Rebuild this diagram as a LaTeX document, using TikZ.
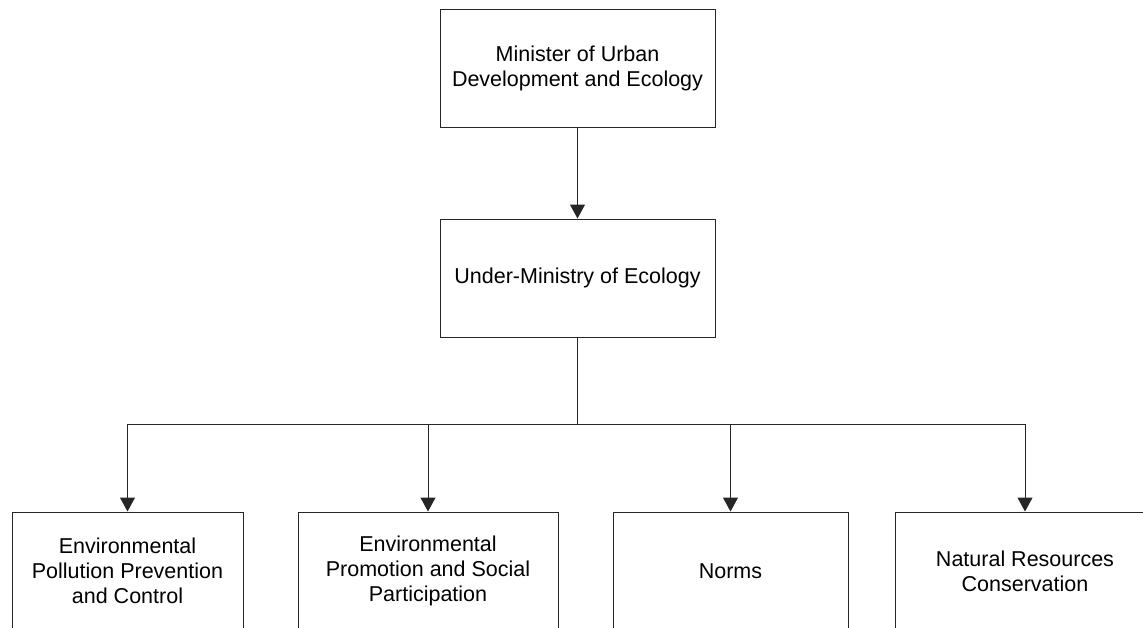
\documentclass[tikz,border=0pt]{standalone}
\usepackage{fontspec}
\setmainfont{Liberation Sans}
\usetikzlibrary{arrows.meta}
\begin{document}
\begin{tikzpicture}[x=1pt,y=-1pt,
  orgbox/.style={draw=black!85, line width=1pt, fill=white, align=center,
    inner sep=0pt, font=\fontsize{21.5}{25}\selectfont},
  link/.style={draw=black!85, line width=1pt},
  arr/.style={link, -{Triangle[width=15pt,length=14pt]}}]
  \useasboundingbox (0,0) rectangle (1143,627);
  \clip (0,0) rectangle (1143,627);

  % top of the hierarchy
  \node[orgbox, minimum width=275pt, minimum height=118pt] (minister) at (577.5,68)
    {Minister of Urban\\Development and Ecology};
  \node[orgbox, minimum width=275pt, minimum height=118pt] (under) at (577.5,278)
    {Under-Ministry of Ecology};

  % departments
  \node[orgbox, minimum width=231pt, minimum height=118pt] (pollution) at (127.5,571)
    {Environmental\\Pollution Prevention\\and Control};
  \node[orgbox, minimum width=260pt, minimum height=118pt] (promotion) at (428,571)
    {Environmental\\Promotion and Social\\Participation};
  \node[orgbox, minimum width=235pt, minimum height=118pt] (norms) at (730.5,571)
    {Norms};
  \node[orgbox, minimum width=260pt, minimum height=118pt] (natural) at (1025,571)
    {Natural Resources\\Conservation};

  % connectors
  \coordinate (bus) at (577.5,424);
  \draw[arr] (minister) -- (under);
  \draw[link] (under.south) -- (bus);
  \draw[arr] (bus) -| (pollution.north);
  \draw[arr] (bus) -| (promotion.north);
  \draw[arr] (bus) -| (norms.north);
  \draw[arr] (bus) -| (natural.north);
\end{tikzpicture}
\end{document}
